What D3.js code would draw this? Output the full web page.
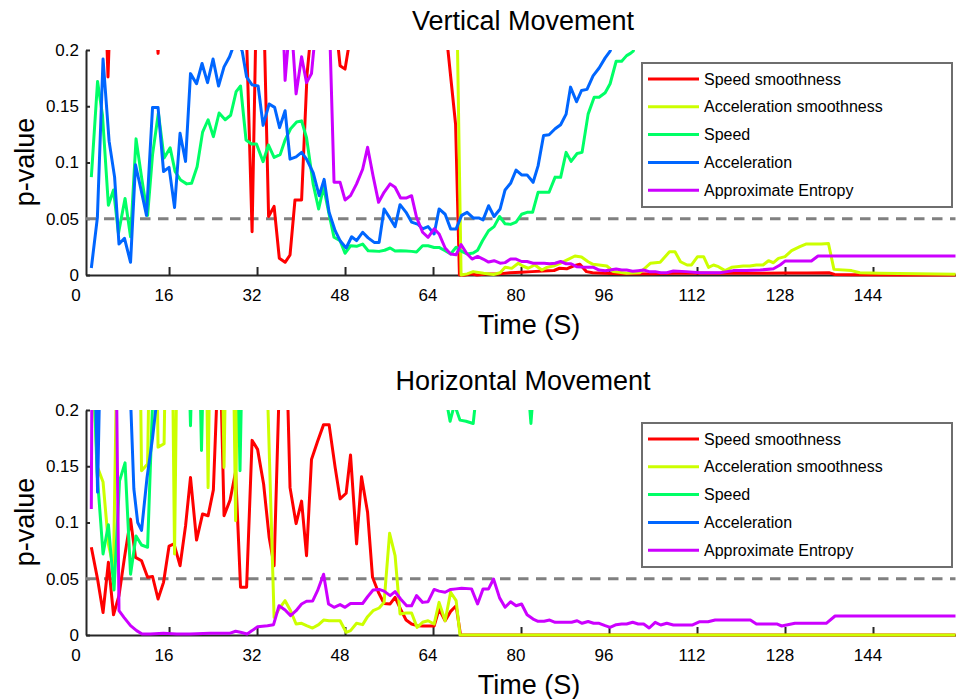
<!DOCTYPE html>
<html>
<head>
<meta charset="utf-8">
<script src="https://cdn.jsdelivr.net/npm/d3@7"></script>
<style>
  body { margin: 0; background: #fff; }
  text { font-family: "Liberation Sans", Arial, Helvetica, sans-serif; fill: #000; }
</style>
</head>
<body>
<svg id="chart" width="964" height="699"></svg>
<script>
// series are [time, p-value] pairs; values above 0.2 are clipped
const seriesNames = ["Speed smoothness", "Acceleration smoothness", "Speed", "Acceleration", "Approximate Entropy"];
const seriesColors = ["#ff0000", "#ccff00", "#00ff66", "#0066ff", "#cc00ff"];
const xTicks = [0, 16, 32, 48, 64, 80, 96, 112, 128, 144];
const yTicks = [0, 0.05, 0.1, 0.15, 0.2];
const threshold = 0.05;

// Vertical movement
const vSpeedSmooth = [[1.9,0.4],[4.6,0.22],[4.9,0.176],[5.2,0.22],[13.7,0.22],[14,0.197],[14.3,0.22],[29.5,0.3],[30.1,0.21],[31.1,0.0385],[31.9,0.25],[32.6,0.3],[33.3,0.22],[34.1,0.052],[35.1,0.061],[36.05,0.0148],[37.1,0.0113],[38,0.0178],[38.9,0.0667],[40.1,0.0667],[41.1,0.179],[41.9,0.22],[44,0.3],[46.6,0.21],[47.1,0.186],[48,0.183],[48.9,0.21],[55,0.3],[66.5,0.21],[67.3,0.172],[68.1,0.134],[68.8,0],[69.8,0],[71,0.001],[72,0],[74,0.001],[76,0.001],[78,0.002],[80,0.0025],[82,0.003],[84,0.0035],[86,0.004],[87,0.006],[88.3,0.0055],[89.5,0.008],[90.7,0.0095],[91.9,0.003],[93,0.002],[95,0.0015],[98,0.001],[100,0.0012],[104,0.001],[108,0.0015],[112,0.0018],[116,0.0015],[120,0.0015],[124,0.0016],[128,0.0017],[132,0.0018],[136,0.002],[137,0.0005],[140,0.0002],[150,0],[159,0]];
const vAccSmooth = [[1.9,0.4],[67.5,0.5],[69.1,0],[70.2,0.001],[71.3,0.003],[73.2,0.0015],[75,0.0005],[76.2,0.002],[77.1,0.0068],[78.3,0.0059],[79.5,0.0104],[80.3,0.008],[81.3,0.006],[82.5,0.0089],[83.8,0.0044],[84.7,0.0068],[85.9,0.008],[87.1,0.0104],[88.3,0.0133],[89.8,0.0169],[91,0.016],[92.2,0.0118],[93.1,0.0095],[95.6,0.008],[96.8,0.003],[99.2,0.0015],[101.6,0.002],[103.5,0.0104],[105.3,0.0113],[107,0.0207],[108,0.0207],[109,0.0118],[110.2,0.0089],[111,0.0089],[112.1,0.0163],[113.2,0.0163],[114.1,0.0068],[115,0.0089],[115.9,0.0074],[117.1,0.0039],[118.3,0.0068],[119.2,0.0074],[120.4,0.008],[121.6,0.008],[122.8,0.0089],[124,0.0089],[125,0.0127],[125.9,0.0109],[126.8,0.0148],[128,0.0163],[129.2,0.0216],[130.7,0.0252],[131.9,0.0276],[133.1,0.0276],[134.6,0.0276],[135.9,0.028],[136.9,0.005],[140.1,0.0039],[141.6,0.002],[145.2,0.0015],[159,0.0006]];
const vSpeed = [[1.87,0.087],[3,0.172],[3.9,0.142],[4.97,0.062],[5.9,0.0756],[6.8,0.037],[8,0.068],[9,0.034],[10,0.121],[11,0.087],[12.1,0.053],[13,0.107],[14.06,0.144],[15.1,0.104],[16.2,0.113],[17.1,0.092],[18.1,0.0844],[19.2,0.081],[20.1,0.0815],[21.1,0.0963],[22.1,0.127],[23.1,0.138],[24.06,0.123],[25.1,0.144],[26.2,0.138],[27.2,0.142],[28.2,0.163],[29,0.168],[30,0.12],[31,0.1164],[31.9,0.1164],[33.1,0.1007],[34.06,0.1156],[35.1,0.1046],[36.2,0.107],[37.1,0.12],[38.1,0.13],[39.2,0.136],[40.1,0.137],[41,0.122],[42.2,0.081],[43.2,0.0587],[44.1,0.078],[45.1,0.054],[46,0.0335],[47.1,0.0305],[48,0.0193],[49,0.026],[50.1,0.0255],[51.2,0.0275],[52.2,0.0216],[53.1,0.0213],[54.2,0.021],[55.2,0.022],[56.2,0.024],[57.1,0.0213],[58.1,0.0216],[59.1,0.0213],[60.1,0.021],[61,0.0204],[62.1,0.026],[63.1,0.026],[64.2,0.0245],[65.1,0.0245],[66.2,0.0216],[67.2,0.0187],[68.2,0.0246],[69.2,0.021],[70.2,0.0187],[71.3,0.0195],[72.1,0.022],[73,0.0305],[74.1,0.0394],[75.1,0.043],[76.1,0.052],[77.1,0.0455],[78.1,0.045],[79.1,0.047],[80.1,0.054],[81.1,0.0557],[82.1,0.0557],[83.1,0.0735],[84.2,0.0735],[85.1,0.0735],[86.2,0.087],[87.2,0.0868],[88.2,0.109],[89.1,0.101],[90.2,0.108],[91.1,0.109],[92.2,0.143],[93.3,0.158],[94.2,0.158],[95.3,0.162],[96.2,0.17],[97.3,0.19],[98.3,0.19],[99.2,0.195],[99.9,0.197],[100.4,0.199],[101.4,0.22]];
const vAcc = [[1.87,0.0062],[2.97,0.051],[4,0.192],[5.1,0.119],[6.1,0.087],[6.9,0.0275],[7.9,0.0326],[9,0.0113],[9.9,0.098],[10.9,0.076],[11.9,0.053],[13,0.149],[14,0.149],[15,0.092],[16,0.0957],[17,0.06],[18,0.126],[19,0.101],[19.9,0.179],[21,0.17],[22,0.188],[23,0.171],[24,0.192],[25,0.168],[26,0.185],[27,0.194],[28.2,0.21],[29.3,0.199],[30.1,0.176],[31.1,0.169],[32.2,0.168],[33.1,0.133],[34.2,0.152],[35.2,0.149],[36.1,0.131],[37.1,0.146],[38,0.103],[39.1,0.105],[40.1,0.109],[41,0.103],[42.2,0.091],[43.3,0.0705],[44.2,0.085],[45.1,0.0557],[46.2,0.0394],[47.1,0.0305],[48.2,0.024],[49.2,0.034],[50.1,0.0305],[51.2,0.038],[52.2,0.033],[53.3,0.029],[54.2,0.029],[55.1,0.0587],[56.1,0.051],[57.1,0.043],[58,0.0625],[59.1,0.0557],[60.1,0.047],[61.3,0.045],[62.1,0.041],[63.1,0.043],[64.2,0.0365],[65.1,0.0587],[66.2,0.054],[67.2,0.041],[68.2,0.041],[69.2,0.053],[70.2,0.0557],[71.3,0.0507],[72.3,0.0507],[73.1,0.049],[74.1,0.0616],[75.1,0.052],[76.2,0.0587],[77.1,0.0756],[78.1,0.0815],[79.1,0.0933],[80.1,0.089],[81.1,0.089],[82.2,0.0824],[83.1,0.097],[84.1,0.124],[85.1,0.1247],[86.2,0.13],[87.2,0.1336],[88.2,0.143],[89,0.167],[90.1,0.154],[91,0.164],[92,0.165],[93.1,0.177],[94.2,0.184],[95.3,0.193],[96.2,0.199],[97.2,0.215]];
const vEntropy = [[1.9,0.4],[36.7,0.23],[37.1,0.173],[37.9,0.22],[38.3,0.22],[39.1,0.161],[40.1,0.194],[41,0.171],[41.9,0.179],[42.5,0.21],[44,0.3],[45.2,0.22],[46,0.0824],[47.1,0.0824],[48,0.0667],[49,0.0705],[50.1,0.081],[51.2,0.094],[52.1,0.1135],[53.1,0.088],[54.1,0.0646],[55.1,0.0735],[56.2,0.081],[57.1,0.078],[58.1,0.0684],[59.1,0.0684],[60.1,0.0705],[61,0.0513],[62.1,0.038],[63.1,0.0335],[64.2,0.041],[65.1,0.0365],[66.2,0.024],[67.2,0.0187],[68.2,0.018],[69.1,0.027],[70.1,0.0193],[71.1,0.0142],[72.1,0.0165],[73.1,0.0142],[74.1,0.0115],[75.1,0.0127],[76.2,0.0105],[77.1,0.011],[78.1,0.0142],[79.1,0.0142],[80.1,0.012],[81.1,0.012],[82.2,0.0104],[83.2,0.0104],[84.2,0.0104],[85.2,0.01],[86.2,0.0104],[87.2,0.012],[88.2,0.01],[89.1,0.01],[90.1,0.0074],[91.1,0.007],[92.2,0.0068],[93.2,0.0068],[94.2,0.0044],[95.3,0.0038],[96.2,0.0044],[97.3,0.0053],[98.3,0.0044],[99.2,0.0044],[100.3,0.0033],[101.3,0.0038],[102.3,0.0044],[103.3,0.003],[104.4,0.003],[105.4,0.002],[106.5,0.002],[107.7,0.0035],[110,0.003],[112.5,0.002],[116.2,0.002],[118.6,0.0039],[121,0.004],[123.5,0.0044],[125.9,0.0056],[127.1,0.0089],[128,0.0124],[132.8,0.0124],[134,0.0169],[159,0.0169]];

// Horizontal movement
const hSpeedSmooth = [[1.87,0.078],[3,0.0498],[4,0.02],[4.97,0.0646],[5.9,0.018],[6.9,0.035],[7.9,0.069],[9,0.103],[9.9,0.069],[11,0.066],[12.1,0.0513],[13,0.052],[14,0.032],[15,0.0468],[16,0.079],[16.9,0.081],[18,0.0616],[19,0.097],[19.9,0.14],[21,0.0844],[22.1,0.1076],[23.1,0.106],[24.06,0.129],[25,0.25],[25.3,0.25],[26,0.106],[27.1,0.12],[28.1,0.145],[29,0.0424],[30.1,0.0424],[31.1,0.173],[32.1,0.165],[33.2,0.134],[34.2,0.087],[35.1,0.0616],[36.5,0.3],[37.1,0.3],[38,0.131],[39.1,0.099],[40.1,0.119],[41,0.0705],[41.9,0.156],[43,0.172],[44.1,0.187],[45.1,0.187],[46.2,0.149],[47.1,0.121],[48.2,0.126],[49,0.16],[50.1,0.081],[51,0.1407],[52.1,0.109],[53,0.0513],[54.06,0.038],[55.1,0.028],[56.2,0.0276],[57.1,0.0335],[58.1,0.023],[59.1,0.0133],[60.1,0.0098],[61.1,0.0083],[62.1,0.008],[63.1,0.008],[64.2,0.008],[65.1,0.023],[66.2,0.0127],[67.2,0.021],[68.2,0.026],[69,0],[159,0]];
const hAccSmooth = [[1.9,0.25],[3,0.149],[4,0.136],[5,0.08],[5.9,0.06],[7,0.4],[10.5,0.35],[11,0.146],[12.1,0.152],[12.9,0.4],[13.4,0.4],[14,0.167],[15.1,0.17],[15.8,0.4],[16.3,0.4],[17,0.072],[17.8,0.4],[22.4,0.4],[23.1,0.131],[23.8,0.4],[25.2,0.4],[26,0.149],[26.8,0.4],[27.3,0.4],[28.1,0.1016],[28.8,0.4],[33.4,0.3],[35.1,0.0157],[36.2,0.0246],[37.1,0.0305],[38.1,0.0216],[39.1,0.0098],[40.1,0.0104],[41,0.0083],[42.1,0.0062],[43.2,0.0092],[44.1,0.0133],[45.1,0.0127],[46.1,0.0127],[47.1,0.0127],[48.2,0.0024],[49,0.0039],[50.1,0.0104],[51.2,0.0092],[52.1,0.0163],[53.1,0.0216],[54.2,0.024],[55.1,0.029],[56.1,0.0904],[57.1,0.0705],[58,0.0187],[59.1,0.0196],[60.1,0.0196],[61.1,0.0068],[62.1,0.0113],[63.1,0.0127],[64.2,0.0098],[65.1,0.029],[66.2,0.0127],[67.2,0.038],[68.2,0.0305],[68.9,0],[159,0]];
const hSpeed = [[1.9,0.3],[2.9,0.145],[4,0.072],[4.97,0.098],[6,0.04],[7,0.137],[8,0.153],[9,0.054],[10,0.088],[11,0.08],[12.1,0.078],[13.1,0.22],[19.3,0.3],[19.9,0.186],[20.5,0.3],[21.3,0.3],[21.9,0.164],[22.5,0.3],[28.3,0.3],[28.9,0.146],[29.5,0.3],[65.6,0.23],[67.1,0.19],[67.9,0.205],[68.9,0.191],[70,0.19],[71.3,0.188],[72,0.22],[81.3,0.22],[81.8,0.188],[82.3,0.22],[85,0.3]];
const hAcc = [[1.9,0.4],[2.4,0.3],[3,0.127],[3.7,0.3],[8.7,0.25],[9.6,0.13],[10.3,0.1],[11,0.093],[12,0.14],[13,0.175],[13.8,0.21],[15,0.3]];
const hEntropy = [[1.87,0.112],[2.3,0.6],[5.6,0.6],[6.9,0.0216],[7.8,0.0157],[9,0.0083],[10.1,0.0039],[11.1,0.0009],[12.6,0.0009],[15,0.0015],[17.4,0.0009],[19.8,0.0009],[23.4,0.0015],[26,0.0015],[27,0.0015],[28.1,0.0033],[29,0.0024],[30.2,0.0009],[31.1,0.0039],[32.1,0.0074],[33.9,0.0083],[35,0.0092],[36,0.026],[37.1,0.0222],[38.1,0.0172],[39.1,0.0216],[40.1,0.0276],[41,0.03],[42.1,0.0302],[43,0.0394],[44.1,0.054],[45,0.0276],[46,0.0246],[47.1,0.027],[48,0.0246],[49,0.028],[50.1,0.028],[51.2,0.028],[52.1,0.034],[53.1,0.04],[54.2,0.0405],[55.1,0.039],[56.2,0.035],[57.1,0.0385],[58.1,0.032],[59.2,0.026],[60.1,0.026],[61,0.035],[62.1,0.029],[63.1,0.0296],[64.2,0.0405],[65.1,0.039],[66.2,0.038],[67.2,0.0405],[68.2,0.041],[69.2,0.0415],[71,0.041],[72.1,0.0276],[73.1,0.041],[74.1,0.041],[75,0.0498],[76.1,0.033],[77.1,0.0246],[78.1,0.0296],[79.1,0.026],[80.1,0.0276],[81.1,0.018],[82.2,0.0142],[83.1,0.0122],[84.2,0.0122],[85.2,0.0133],[86.2,0.0113],[87.2,0.0113],[88.2,0.0113],[89.2,0.0113],[90.2,0.0127],[91.1,0.0104],[92.2,0.012],[93.2,0.0104],[94.2,0.0104],[95.3,0.0083],[96.2,0.0068],[97.3,0.0092],[98.3,0.0098],[99.2,0.0098],[100.3,0.0113],[101.3,0.0098],[102.3,0.0098],[103.3,0.0062],[104.4,0.0113],[105.4,0.0089],[106.5,0.0104],[107.7,0.0089],[110.2,0.0089],[111.2,0.0089],[112.5,0.0118],[114,0.0118],[115.3,0.0133],[118,0.0133],[121.7,0.0133],[122.8,0.0098],[126.5,0.0098],[127.4,0.008],[129.8,0.0104],[135.5,0.0104],[137.1,0.0169],[159,0.0169]];

const panels = [
  { title: "Vertical Movement", top: 50, series: [vSpeedSmooth, vAccSmooth, vSpeed, vAcc, vEntropy] },
  { title: "Horizontal Movement", top: 410, series: [hSpeedSmooth, hAccSmooth, hSpeed, hAcc, hEntropy] }
];

const svg = d3.select("#chart");
const left = 86, right = 955.5, plotH = 225;
const x = d3.scaleLinear().domain([0.9, 159]).range([left, right]);

panels.forEach(function (panel, pi) {
  const top = panel.top;
  const y = d3.scaleLinear().domain([0, 0.2]).range([top + plotH, top]);
  const g = svg.append("g");

  // axes (drawn under the data, like the original)
  const xAxis = g.append("g")
    .attr("transform", "translate(0," + (top + plotH) + ")")
    .call(d3.axisBottom(x).tickValues(xTicks).tickSizeInner(-8).tickSizeOuter(0).tickPadding(14));
  xAxis.selectAll(".tick").filter(d => d === 0).select("line").remove();
  xAxis.selectAll(".tick text").attr("dx", -5.5);

  const yAxis = g.append("g")
    .attr("transform", "translate(" + left + ",0)")
    .call(d3.axisLeft(y).tickValues(yTicks).tickFormat(d => String(d)).tickSizeInner(-4).tickSizeOuter(0).tickPadding(7));

  [xAxis, yAxis].forEach(function (a) {
    a.select(".domain").attr("stroke", "#262626").attr("stroke-width", 2);
    a.selectAll(".tick line").attr("stroke", "#262626").attr("stroke-width", 2);
    a.selectAll(".tick text").attr("font-size", 17).attr("fill", "#000")
      .style("font-family", '"Liberation Sans", Arial, sans-serif');
  });

  // 0.05 threshold
  g.append("line")
    .attr("x1", left).attr("x2", right)
    .attr("y1", y(threshold)).attr("y2", y(threshold))
    .attr("stroke", "#808080").attr("stroke-width", 3)
    .attr("stroke-dasharray", "10.5,7.5");

  const clipId = "clip" + pi;
  svg.append("clipPath").attr("id", clipId).append("rect")
    .attr("x", left).attr("y", top).attr("width", right - left + 2).attr("height", plotH + 3);

  const line = d3.line().x(d => x(d[0])).y(d => y(d[1]));
  g.append("g").attr("clip-path", "url(#" + clipId + ")")
    .selectAll("path").data(panel.series).join("path")
    .attr("d", line)
    .attr("fill", "none")
    .attr("stroke", (d, i) => seriesColors[i])
    .attr("stroke-width", 3)
    .attr("stroke-linejoin", "round");

  // titles and labels
  g.append("text").attr("x", 523).attr("y", top - 20)
    .attr("text-anchor", "middle").attr("font-size", 27).text(panel.title);
  g.append("text").attr("x", 529).attr("y", top + 284)
    .attr("text-anchor", "middle").attr("font-size", 27).text("Time (S)");
  g.append("text")
    .attr("transform", "translate(34," + (top + 112) + ") rotate(-90)")
    .attr("text-anchor", "middle").attr("font-size", 27).text("p-value");

  // legend
  const lg = g.append("g").attr("transform", "translate(642," + (top + 13) + ")");
  lg.append("rect").attr("width", 310).attr("height", 144)
    .attr("fill", "#fff").attr("stroke", "#6e6e6e").attr("stroke-width", 2);
  seriesNames.forEach(function (name, i) {
    const ly = 16 + i * 27.8;
    lg.append("line").attr("x1", 6).attr("x2", 57).attr("y1", ly).attr("y2", ly)
      .attr("stroke", seriesColors[i]).attr("stroke-width", 3);
    lg.append("text").attr("x", 62).attr("y", ly).attr("dy", "0.35em")
      .attr("font-size", 16).text(name);
  });
});
</script>
</body>
</html>
